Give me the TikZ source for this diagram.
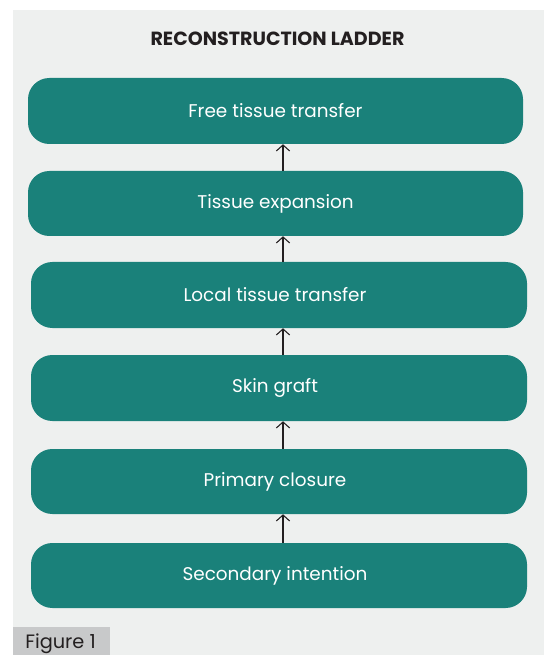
\documentclass[tikz,border=0pt]{standalone}
\usepackage{fontspec}
\setmainfont{Poppins}
\usetikzlibrary{arrows.meta}
\definecolor{teal1}{HTML}{1A817A}
\definecolor{panelbg}{HTML}{EEF0EF}
\definecolor{labelbg}{HTML}{C8C9CA}
\definecolor{darktxt}{HTML}{231F20}
\tikzset{
  stepbox/.style={fill=teal1, draw=none, rounded corners=16pt, text=white,
    font=\fontsize{13.8}{16}\selectfont, inner sep=0pt},
  lefttext/.style={execute at begin node={\hspace*{-6pt}}},
  uparrow/.style={draw=darktxt, line width=0.8pt, -{Straight Barb[length=4.5pt,width=10pt]}},
}
\begin{document}
\begin{tikzpicture}[x=0.75pt,y=-0.75pt]
\useasboundingbox (0,0) rectangle (544,655);
\fill[white] (0,0) rectangle (544,655);
\fill[panelbg] (13,10) rectangle (544,655);
\node[fill=labelbg, inner sep=0pt, minimum width={97*0.75pt}, minimum height={28*0.75pt}] (figlab) at (61.5,641) {};
\node[anchor=base west, text=darktxt, font=\fontsize{14.5}{16}\selectfont, inner sep=0pt] (figtxt) at (25,648) {Figure 1};
\node[text=darktxt, font=\fontsize{14.3}{16}\selectfont\bfseries] (title) at (277.5,39) {RECONSTRUCTION LADDER};
\node[stepbox, minimum width={495*0.75pt}, minimum height={66*0.75pt}] (b1) at (275.5,111) {Free tissue transfer};
\node[stepbox, minimum width={495*0.75pt}, minimum height={65*0.75pt}] (b2) at (275.5,203.5) {Tissue expansion};
\node[stepbox, lefttext, minimum width={496*0.75pt}, minimum height={66*0.75pt}] (b3) at (279,295) {Local tissue transfer};
\node[stepbox, lefttext, minimum width={496*0.75pt}, minimum height={66*0.75pt}] (b4) at (279,388) {Skin graft};
\node[stepbox, lefttext, minimum width={496*0.75pt}, minimum height={65*0.75pt}] (b5) at (279,481.5) {Primary closure};
\node[stepbox, lefttext, minimum width={496*0.75pt}, minimum height={65*0.75pt}] (b6) at (279,575.5) {Secondary intention};
\coordinate (ax) at (283,0);
\draw[uparrow] (b6.north -| ax) -- (b5.south -| ax);
\draw[uparrow] (b5.north -| ax) -- (b4.south -| ax);
\draw[uparrow] (b4.north -| ax) -- (b3.south -| ax);
\draw[uparrow] (b3.north -| ax) -- (b2.south -| ax);
\draw[uparrow] (b2.north -| ax) -- (b1.south -| ax);
\end{tikzpicture}
\end{document}
